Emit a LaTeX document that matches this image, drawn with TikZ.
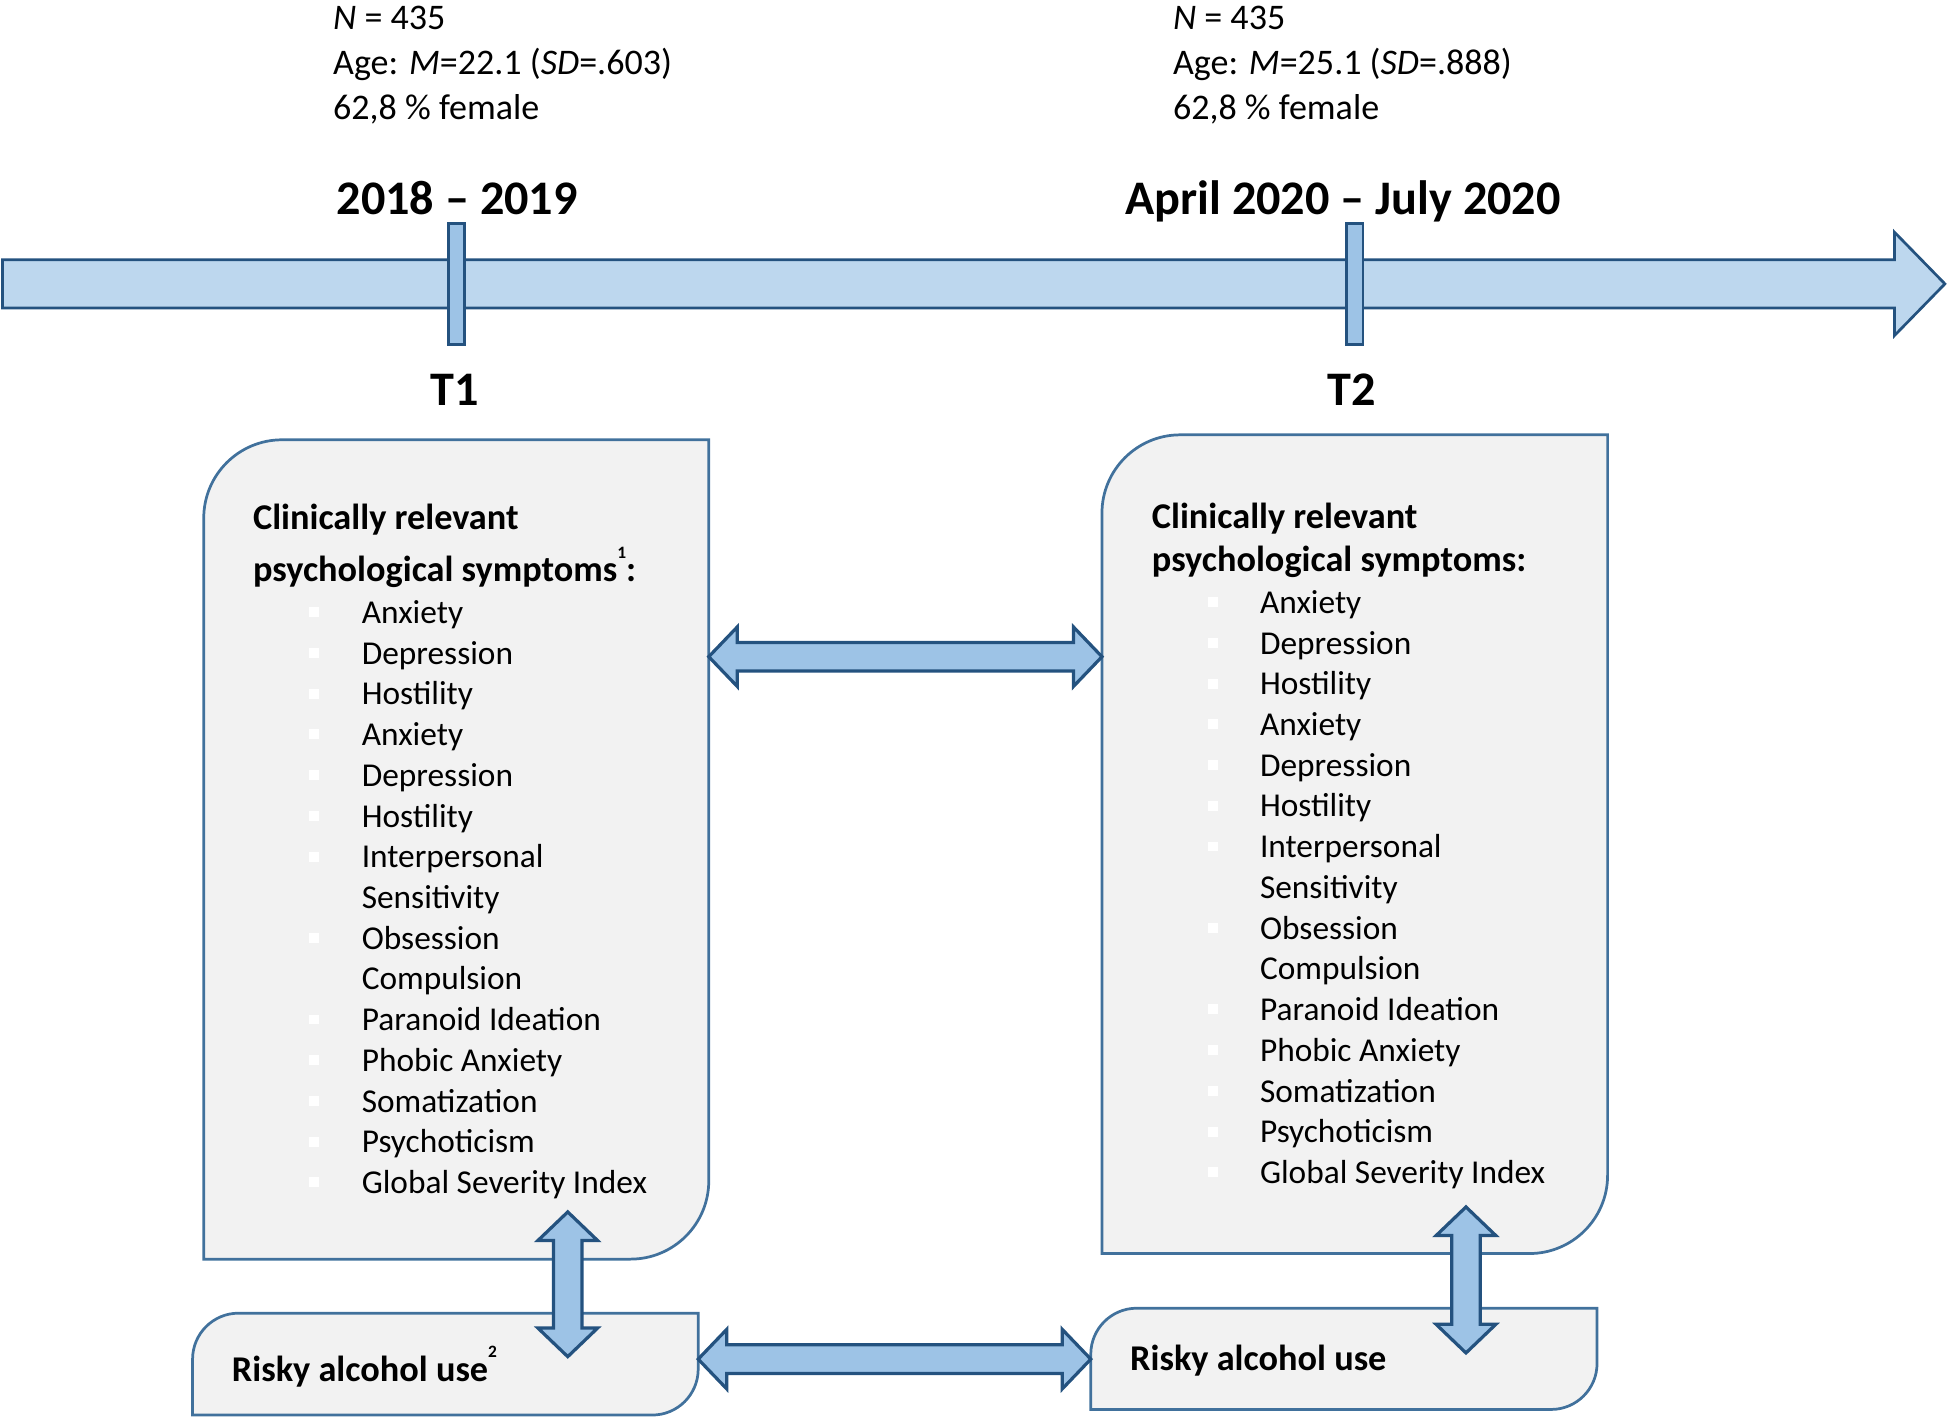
\documentclass[tikz,border=0pt]{standalone}
\usepackage{fontspec}
\setmainfont{Carlito}
\usetikzlibrary{calc}
\definecolor{boxfill}{HTML}{F2F2F2}
\definecolor{boxline}{HTML}{41719C}
\definecolor{tlfill}{HTML}{BDD7EE}
\definecolor{arrfill}{HTML}{9DC3E6}
\definecolor{arrline}{HTML}{24527F}
\newcommand\rdcbox[2]{%
  \path[boxst] (#1.south west) -- ($(#1.north west)+(0,#2)$)
    arc[start angle=180,end angle=270,radius=#2] -- (#1.north east)
    -- ($(#1.south east)-(0,#2)$) arc[start angle=0,end angle=90,radius=#2] -- cycle;}
\newcommand\hdarrow[2]{%
  \path[arrowst] let \p1=(#1), \p2=(#2) in
    (\x1,\y1) -- (\x1+23,\y1+24) -- (\x1+23,\y1+11.5) -- (\x2-23,\y1+11.5) -- (\x2-23,\y1+24)
    -- (\x2,\y1) -- (\x2-23,\y1-24) -- (\x2-23,\y1-11.5) -- (\x1+23,\y1-11.5) -- (\x1+23,\y1-24) -- cycle;}
\newcommand\vdarrow[2]{%
  \path[arrowst] let \p1=(#1), \p2=(#2) in
    (\x1,\y1) -- (\x1+24,\y1-23) -- (\x1+11.5,\y1-23) -- (\x1+11.5,\y2+23) -- (\x1+24,\y2+23)
    -- (\x1,\y2) -- (\x1-24,\y2+23) -- (\x1-11.5,\y2+23) -- (\x1-11.5,\y1-23) -- (\x1-24,\y1-23) -- cycle;}
\begin{document}
\begin{tikzpicture}[x=1pt,y=-1pt,
  boxst/.style={draw=boxline,fill=boxfill,line width=2.2},
  arrowst/.style={draw=arrline,fill=arrfill,line width=2.6,line join=miter},
  frame/.style={inner sep=0,outer sep=0,minimum width=#1,anchor=north west},
  sym/.style={font=\fontsize{26.85}{30}\selectfont,anchor=base west,inner sep=0},
  head/.style={font=\fontsize{29.2}{33}\selectfont\bfseries,anchor=base west,inner sep=0},
  info/.style={font=\fontsize{29}{34}\selectfont,anchor=base west,inner sep=0},
  datest/.style={font=\fontsize{38.8}{44}\selectfont\bfseries,anchor=base,inner sep=0},
  bul/.style={fill=white,draw=none,minimum size=8,inner sep=0},
  tick/.style={draw=arrline,fill=arrfill,line width=2.2,minimum width=13,minimum height=97,inner sep=0}]
\useasboundingbox (0,0) rectangle (1568,1140.6);
% timeline
\path[draw=arrline,fill=tlfill,line width=2.2,line join=miter]
  (2,209) -- (1525,209) -- (1525,187) -- (1565.5,228.5) -- (1525,270) -- (1525,248) -- (2,248) -- cycle;
\node[tick] (t1) at (367.5,228.5) {};
\node[tick] (t2) at (1090.5,228.5) {};
% info texts
\node[info] (i1) at (268,24) {\itshape N\upshape{} = 435};
\node[info] (i2) at (268,60) {Age: \textit{M}=22.1 (\textit{SD}=.603)};
\node[info] (i3) at (268,96) {62,8 \% female};
\node[info] (j1) at (944,24) {\itshape N\upshape{} = 435};
\node[info] (j2) at (944,60) {Age: \textit{M}=25.1 (\textit{SD}=.888)};
\node[info] (j3) at (944,96) {62,8 \% female};
\node[datest] (d1) at (368,172.5) {2018 – 2019};
\node[datest] (d2) at (1081,172.5) {April 2020 – July 2020};
\node[datest] (T1) at (366,326.5) {T1};
\node[datest] (T2) at (1088,326.5) {T2};
% box frames
\node[frame=406.5,minimum height=659.5] (b1) at (164,354) {};
\node[frame=407,minimum height=659] (b2) at (887,350) {};
\node[frame=407,minimum height=82] (s1) at (155,1057) {};
\node[frame=407.5,minimum height=81.5] (s2) at (878,1053) {};
\rdcbox{b1}{63}
\rdcbox{b2}{63}
\rdcbox{s1}{37}
\rdcbox{s2}{37}
% box texts
\node[head] (h1a) at (203.5,426.6) {Clinically relevant};
\node[head] (h1b) at (203.5,468.3) {psychological symptoms\raisebox{19pt}{\fontsize{14}{14}\selectfont 1}:};
\node[head] (h2a) at (927,425.3) {Clinically relevant};
\node[head] (h2b) at (927,460.2) {psychological symptoms:};
\foreach \t/\b [count=\i from 0] in {Anxiety/1,Depression/1,Hostility/1,Anxiety/1,Depression/1,Hostility/1,Interpersonal/1,Sensitivity/0,Obsession/1,Compulsion/0,Paranoid Ideation/1,Phobic Anxiety/1,Somatization/1,Psychoticism/1,Global Severity Index/1}{
  \node[sym] (l\i) at (291,{501.8+\i*32.78}) {\t};
  \node[sym] (r\i) at (1014,{493.7+\i*32.78}) {\t};
  \ifnum\b=1
    \node[bul] (lb\i) at (253,{492.8+\i*32.78}) {};
    \node[bul] (rb\i) at (976,{484.7+\i*32.78}) {};
  \fi
}
\node[head] (ra1) at (186.5,1112) {Risky alcohol use\raisebox{19pt}{\fontsize{14}{14}\selectfont 2}};
\node[head] (ra2) at (909.5,1103.5) {Risky alcohol use};
% connectors
\coordinate (c1) at ($(b1.north east)+(0,174.6)$);
\coordinate (c2) at ($(b2.north west)+(0,178.6)$);
\coordinate (c3) at ($(s1.north east)+(0,37)$);
\coordinate (c4) at ($(s2.north west)+(0,41)$);
\coordinate (v1) at ($(b1.south west)+(293,-38)$);
\coordinate (v2) at ($(s1.north west)+(302,35)$);
\coordinate (v3) at ($(b2.south west)+(293,-37.5)$);
\coordinate (v4) at ($(s2.north west)+(302,36)$);
\hdarrow{c1}{c2}
\hdarrow{c3}{c4}
\vdarrow{v1}{v2}
\vdarrow{v3}{v4}
\end{tikzpicture}
\end{document}
